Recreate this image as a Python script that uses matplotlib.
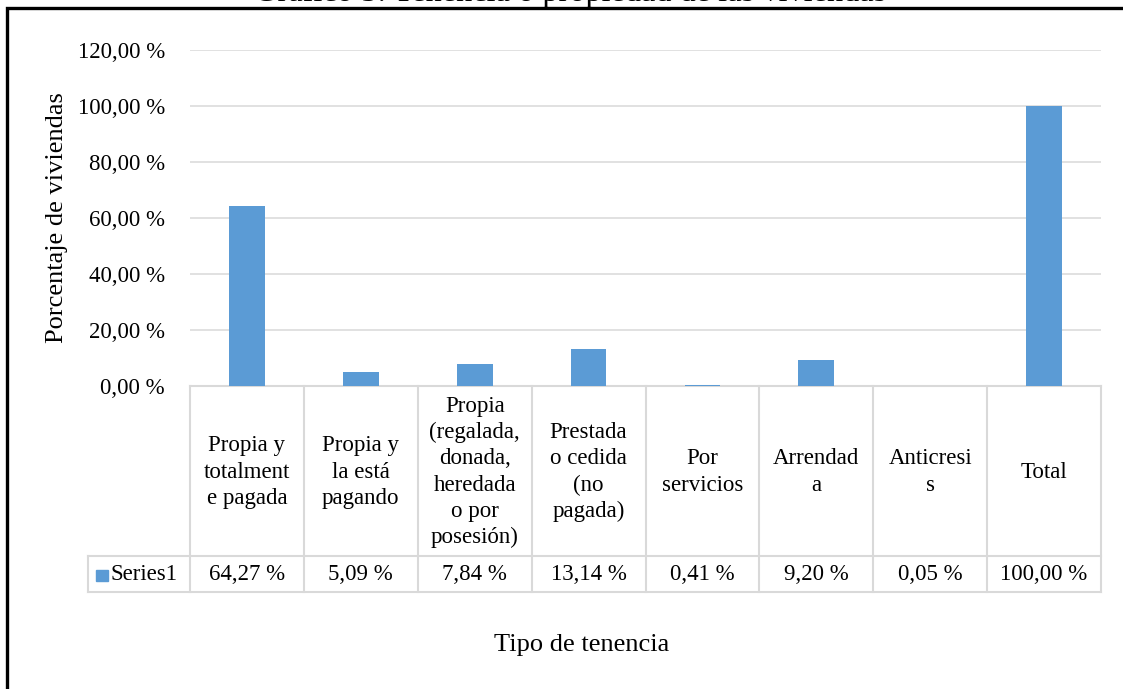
import numpy as np
import matplotlib
matplotlib.use('Agg')
from matplotlib import pyplot as plt
from matplotlib import transforms
from matplotlib.lines import Line2D
from matplotlib.patches import Rectangle

# data
categories = ['Propia y\ntotalment\ne pagada', 'Propia y\nla está\npagando',
              'Propia\n(regalada,\ndonada,\nheredada\no por\nposesión)',
              'Prestada\no cedida\n(no\npagada)', 'Por\nservicios', 'Arrendad\na',
              'Anticresi\ns', 'Total']
values = [64.27, 5.09, 7.84, 13.14, 0.41, 9.20, 0.05, 100.00]
series_name = 'Series1'
y_ticks = [0, 20, 40, 60, 80, 100, 120]
title = 'Gráfico 5: Tenencia o propiedad de las viviendas'
y_title = 'Porcentaje de viviendas'
x_title = 'Tipo de tenencia'

W, H = 1123, 689
BLUE = '#5B9BD5'
GRID = '#d9d9d9'
FS = 16.5

plt.rcParams['font.family'] = ['Liberation Serif', 'DejaVu Serif']

def fx(px):
  return px / W

def fy(px):
  return 1 - px / H

def pct(v):
  return f'{v:.2f}'.replace('.', ',') + ' %'

fig = plt.figure(figsize=(W / 100, H / 100), dpi=100)
ax = fig.add_axes([fx(190), fy(386), fx(1101) - fx(190), (386 - 50) / H])

x = np.arange(len(values))
ax.bar(x, values, width=0.315, color=BLUE, zorder=3)
ax.set_xlim(-0.5, len(values) - 0.5)
ax.set_ylim(0, 120)
ax.set_yticks(y_ticks)
ax.set_yticklabels([pct(t) for t in y_ticks], fontsize=FS)
ax.set_xticks([])
ax.tick_params(axis='y', length=0, pad=18)
ax.grid(axis='y', color=GRID, linewidth=1.1, zorder=0)
for s in ['top', 'right', 'left']:
  ax.spines[s].set_visible(False)
ax.spines['bottom'].set_color(GRID)
ax.spines['bottom'].set_linewidth(1.5)

# data table under the axis
blend = transforms.blended_transform_factory(ax.transData, fig.transFigure)
for i, lab in enumerate(categories):
  ax.text(i, fy(472), lab, transform=blend, ha='center', va='center',
          fontsize=FS, linespacing=1.33, clip_on=False)
  ax.text(i, fy(575), pct(values[i]), transform=blend, ha='center', va='center',
          fontsize=FS, clip_on=False)

for k in range(len(values) + 1):
  xp = fx(190 + k * (1101 - 190) / len(values))
  fig.add_artist(Line2D([xp, xp], [fy(386), fy(592)], color=GRID, lw=1.5))
for yp in [556, 592]:
  fig.add_artist(Line2D([fx(88), fx(1101)], [fy(yp), fy(yp)], color=GRID, lw=1.5))
fig.add_artist(Line2D([fx(88), fx(88)], [fy(556), fy(592)], color=GRID, lw=1.5))

fig.add_artist(Rectangle((fx(96), fy(581)), fx(12), 11 / H, color=BLUE,
                         transform=fig.transFigure))
fig.text(fx(111), fy(575), series_name, ha='left', va='center', fontsize=FS)

# axis titles
fig.text(fx(57), fy(218), y_title, rotation=90, ha='center', va='center', fontsize=19)
fig.text(fx(582), fy(645), x_title, ha='center', va='center', fontsize=19)

# title is cut off by the top edge, as in the source
fig.text(fx(570), fy(1), title, ha='center', va='baseline', fontsize=23.3)
fig.add_artist(Line2D([fx(7), fx(7), fx(1130)], [fy(700), fy(8), fy(8)],
                      color='black', lw=2.4, solid_joinstyle='miter'))

plt.savefig('out.png', dpi=100)
